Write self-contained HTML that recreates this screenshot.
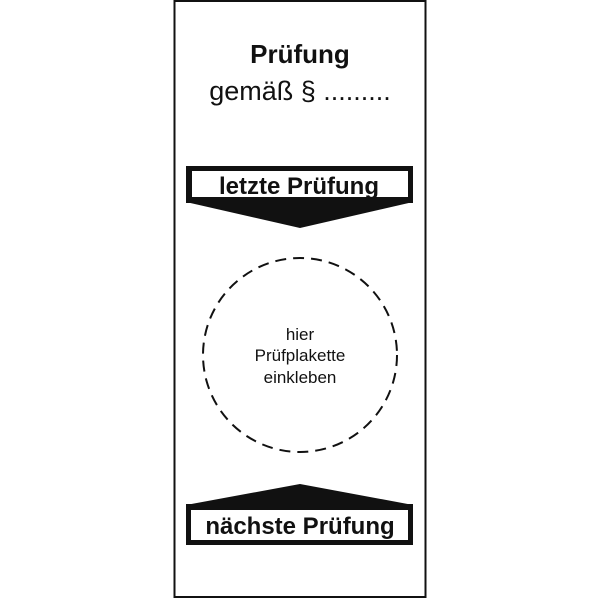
<!DOCTYPE html>
<html><head><style>
html,body{margin:0;padding:0;background:#fff;}
</style></head><body>
<svg width="600" height="600" viewBox="0 0 600 600" xmlns="http://www.w3.org/2000/svg" style="display:block">
<rect x="174.5" y="1" width="251" height="596" fill="#fff" stroke="#111" stroke-width="2"/>
<g font-family="Liberation Sans, Arial, sans-serif" fill="#111" text-anchor="middle">
<text x="300" y="63" font-size="26" font-weight="bold">Prüfung</text>
<text x="300" y="100" font-size="27">gemäß § .........</text>
<text x="300" y="340" font-size="17">hier</text>
<text x="300" y="361" font-size="17">Prüfplakette</text>
<text x="300" y="383" font-size="17">einkleben</text>
</g>
<!-- top label -->
<rect x="186" y="166" width="227" height="37" fill="#111"/>
<rect x="192" y="171" width="216" height="26" fill="#fff"/>
<polygon points="186,202 413,202 300,228" fill="#111"/>
<text x="299" y="194" font-family="Liberation Sans, Arial, sans-serif" font-size="24" font-weight="bold" text-anchor="middle" fill="#111">letzte Prüfung</text>
<!-- circle -->
<circle cx="300" cy="355" r="97" fill="none" stroke="#111" stroke-width="2" stroke-dasharray="11,7"/>
<!-- bottom label -->
<polygon points="186,505 413,505 300,484" fill="#111"/>
<rect x="186" y="504" width="227" height="41" fill="#111"/>
<rect x="191" y="510" width="217" height="30" fill="#fff"/>
<text x="300" y="534" font-family="Liberation Sans, Arial, sans-serif" font-size="24" font-weight="bold" text-anchor="middle" fill="#111">nächste Prüfung</text>
</svg>
</body></html>
